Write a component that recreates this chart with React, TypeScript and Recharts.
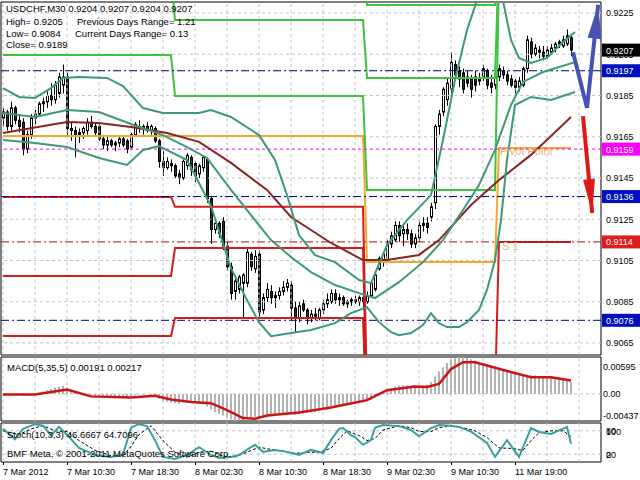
import React from 'react';
import { ComposedChart, Bar, Line, XAxis, YAxis, ReferenceLine, ReferenceArea, ReferenceDot } from 'recharts';

const FONT = '"Liberation Sans", Arial, sans-serif';

// USDCHF M30 bars, first bar 7 Mar 2012 02:30
const opens = [
  0.9174, 0.9177, 0.9170, 0.9179, 0.9173, 0.9172, 0.9159, 0.9166, 0.9174, 0.9176,
  0.9181, 0.9182, 0.9185, 0.9183, 0.9186, 0.9190, 0.9194, 0.9169, 0.9168, 0.9166,
  0.9167, 0.9168, 0.9172, 0.9170, 0.9170, 0.9164, 0.9161, 0.9163, 0.9161, 0.9162,
  0.9164, 0.9163, 0.9160, 0.9166, 0.9170, 0.9169, 0.9170, 0.9168, 0.9169, 0.9163,
  0.9153, 0.9150, 0.9152, 0.9151, 0.9147, 0.9145, 0.9151, 0.9155, 0.9152, 0.9147,
  0.9150, 0.9154, 0.9135, 0.9120, 0.9123, 0.9124, 0.9112, 0.9102, 0.9090, 0.9091,
  0.9094, 0.9094, 0.9108, 0.9101, 0.9108, 0.9081, 0.9087, 0.9090, 0.9087, 0.9088,
  0.9090, 0.9092, 0.9093, 0.9082, 0.9077, 0.9084, 0.9081, 0.9077, 0.9079, 0.9077,
  0.9081, 0.9084, 0.9085, 0.9089, 0.9086, 0.9087, 0.9084, 0.9085, 0.9086, 0.9085,
  0.9087, 0.9085, 0.9088, 0.9091, 0.9101, 0.9105, 0.9105, 0.9113, 0.9115, 0.9122,
  0.9118, 0.9120, 0.9118, 0.9113, 0.9116, 0.9122, 0.9123, 0.9126, 0.9133, 0.9170,
  0.9177, 0.9183, 0.9188, 0.9200, 0.9197, 0.9196, 0.9194, 0.9193, 0.9194, 0.9193,
  0.9194, 0.9197, 0.9191, 0.9190, 0.9194, 0.9197, 0.9195, 0.9193, 0.9192, 0.9189,
  0.9190, 0.9198, 0.9211, 0.9205, 0.9207, 0.9206, 0.9204, 0.9206, 0.9208, 0.9210,
  0.9209, 0.9210, 0.9213,
];
const highs = [
  0.9179, 0.9178, 0.9182, 0.9180, 0.9176, 0.9174, 0.9168, 0.9176, 0.9178, 0.9182,
  0.9184, 0.9187, 0.9191, 0.9192, 0.9196, 0.9200, 0.9196, 0.9172, 0.9170, 0.9169,
  0.9170, 0.9174, 0.9175, 0.9172, 0.9172, 0.9165, 0.9165, 0.9164, 0.9163, 0.9165,
  0.9165, 0.9164, 0.9167, 0.9172, 0.9173, 0.9171, 0.9172, 0.9171, 0.9170, 0.9164,
  0.9158, 0.9155, 0.9154, 0.9152, 0.9149, 0.9154, 0.9157, 0.9156, 0.9153, 0.9152,
  0.9156, 0.9155, 0.9136, 0.9125, 0.9124, 0.9126, 0.9114, 0.9104, 0.9097, 0.9098,
  0.9099, 0.9111, 0.9109, 0.9110, 0.9110, 0.9089, 0.9094, 0.9093, 0.9090, 0.9092,
  0.9095, 0.9096, 0.9095, 0.9085, 0.9085, 0.9086, 0.9082, 0.9081, 0.9082, 0.9082,
  0.9086, 0.9089, 0.9091, 0.9091, 0.9089, 0.9088, 0.9086, 0.9087, 0.9088, 0.9088,
  0.9089, 0.9090, 0.9095, 0.9100, 0.9107, 0.9109, 0.9115, 0.9119, 0.9124, 0.9124,
  0.9122, 0.9123, 0.9120, 0.9118, 0.9124, 0.9126, 0.9126, 0.9133, 0.9171, 0.9178,
  0.9189, 0.9193, 0.9206, 0.9202, 0.9199, 0.9198, 0.9197, 0.9195, 0.9197, 0.9196,
  0.9200, 0.9198, 0.9195, 0.9196, 0.9200, 0.9199, 0.9197, 0.9195, 0.9193, 0.9194,
  0.9199, 0.9214, 0.9213, 0.9210, 0.9209, 0.9209, 0.9209, 0.9210, 0.9211, 0.9212,
  0.9214, 0.9217, 0.9214,
];
const lows = [
  0.9170, 0.9168, 0.9168, 0.9171, 0.9167, 0.9156, 0.9157, 0.9164, 0.9171, 0.9175,
  0.9177, 0.9179, 0.9180, 0.9181, 0.9184, 0.9186, 0.9166, 0.9163, 0.9155, 0.9162,
  0.9164, 0.9166, 0.9169, 0.9165, 0.9163, 0.9159, 0.9158, 0.9160, 0.9158, 0.9160,
  0.9160, 0.9157, 0.9159, 0.9165, 0.9167, 0.9166, 0.9167, 0.9166, 0.9162, 0.9150,
  0.9146, 0.9149, 0.9148, 0.9145, 0.9142, 0.9144, 0.9149, 0.9146, 0.9143, 0.9145,
  0.9148, 0.9133, 0.9113, 0.9118, 0.9116, 0.9110, 0.9100, 0.9086, 0.9086, 0.9089,
  0.9077, 0.9092, 0.9100, 0.9099, 0.9077, 0.9079, 0.9085, 0.9084, 0.9082, 0.9086,
  0.9088, 0.9090, 0.9076, 0.9070, 0.9075, 0.9080, 0.9074, 0.9075, 0.9076, 0.9076,
  0.9079, 0.9082, 0.9084, 0.9084, 0.9083, 0.9083, 0.9082, 0.9083, 0.9084, 0.9083,
  0.9081, 0.9084, 0.9087, 0.9090, 0.9100, 0.9102, 0.9104, 0.9111, 0.9114, 0.9114,
  0.9112, 0.9115, 0.9111, 0.9111, 0.9114, 0.9119, 0.9118, 0.9124, 0.9130, 0.9166,
  0.9175, 0.9180, 0.9186, 0.9192, 0.9189, 0.9186, 0.9189, 0.9184, 0.9187, 0.9190,
  0.9192, 0.9188, 0.9186, 0.9188, 0.9192, 0.9193, 0.9190, 0.9189, 0.9186, 0.9187,
  0.9189, 0.9196, 0.9203, 0.9204, 0.9203, 0.9202, 0.9203, 0.9205, 0.9206, 0.9208,
  0.9208, 0.9209, 0.9204,
];
const closes = [
  0.9177, 0.9170, 0.9179, 0.9173, 0.9170, 0.9159, 0.9166, 0.9174, 0.9176, 0.9181,
  0.9182, 0.9185, 0.9183, 0.9190, 0.9194, 0.9194, 0.9169, 0.9168, 0.9166, 0.9167,
  0.9169, 0.9172, 0.9170, 0.9167, 0.9164, 0.9161, 0.9163, 0.9161, 0.9162, 0.9164,
  0.9161, 0.9159, 0.9166, 0.9171, 0.9169, 0.9170, 0.9168, 0.9170, 0.9163, 0.9153,
  0.9150, 0.9153, 0.9151, 0.9146, 0.9145, 0.9153, 0.9156, 0.9149, 0.9146, 0.9151,
  0.9155, 0.9135, 0.9120, 0.9123, 0.9118, 0.9112, 0.9102, 0.9089, 0.9095, 0.9097,
  0.9098, 0.9109, 0.9102, 0.9107, 0.9080, 0.9087, 0.9091, 0.9087, 0.9088, 0.9090,
  0.9092, 0.9094, 0.9082, 0.9077, 0.9083, 0.9081, 0.9077, 0.9079, 0.9078, 0.9081,
  0.9084, 0.9086, 0.9089, 0.9086, 0.9087, 0.9084, 0.9085, 0.9086, 0.9085, 0.9087,
  0.9085, 0.9088, 0.9094, 0.9098, 0.9106, 0.9108, 0.9113, 0.9117, 0.9122, 0.9117,
  0.9120, 0.9118, 0.9113, 0.9116, 0.9122, 0.9123, 0.9121, 0.9131, 0.9170, 0.9176,
  0.9188, 0.9191, 0.9201, 0.9195, 0.9193, 0.9188, 0.9191, 0.9188, 0.9190, 0.9192,
  0.9198, 0.9190, 0.9189, 0.9194, 0.9198, 0.9195, 0.9192, 0.9190, 0.9189, 0.9192,
  0.9198, 0.9212, 0.9205, 0.9208, 0.9206, 0.9204, 0.9207, 0.9208, 0.9210, 0.9211,
  0.9212, 0.9214, 0.9207,
];

// MACD main (histogram), in thousandths
const macdHist = [
  0.0, -0.1, -0.1, 0.0, -0.1, -0.3, -0.3, -0.2, 0.0, 0.2,
  0.4, 0.6, 0.8, 1.0, 1.2, 1.3, 1.0, 0.7, 0.5, 0.3,
  0.1, 0.0, -0.2, -0.3, -0.4, -0.5, -0.6, -0.6, -0.7, -0.6,
  -0.6, -0.5, -0.4, -0.2, -0.1, -0.1, 0.0, -0.1, -0.4, -0.8,
  -1.1, -1.3, -1.4, -1.5, -1.6, -1.4, -1.2, -1.2, -1.4, -1.6,
  -1.7, -2.0, -2.5, -2.9, -3.2, -3.5, -3.8, -4.1, -4.37, -4.3,
  -4.2, -4.0, -3.9, -3.7, -3.9, -3.9, -3.8, -3.6, -3.5, -3.4,
  -3.3, -3.2, -3.3, -3.4, -3.3, -3.2, -3.1, -3.0, -2.9, -2.7,
  -2.5, -2.4, -2.2, -2.1, -2.0, -1.9, -1.8, -1.7, -1.6, -1.5,
  -1.4, -1.2, -1.0, -0.6, -0.2, 0.2, 0.6, 0.9, 1.2, 1.3,
  1.4, 1.4, 1.3, 1.3, 1.3, 1.4, 1.5, 1.9, 2.8, 3.6,
  4.3, 5.0, 5.5, 5.8, 5.95, 5.9, 5.8, 5.6, 5.4, 5.2,
  5.0, 4.8, 4.6, 4.4, 4.2, 4.0, 3.8, 3.6, 3.4, 3.2,
  3.1, 3.1, 3.0, 3.0, 2.9, 2.9, 2.8, 2.7, 2.6, 2.5,
  2.3, 2.1, 1.91,
];
// [bar, value] points
const macdSignal = [
  [0, -0.1], [8, -0.1], [16, 0.7], [22, -0.4], [32, -0.6], [38, -0.3], [42, -0.9], [47, -1.3],
  [52, -1.5], [56, -2.6], [60, -3.9], [63, -4.0], [66, -3.5], [74, -3.0], [82, -2.2], [91, -1.0],
  [96, 0.6], [103, 1.2], [106, 1.1], [109, 1.6], [112, 4.0], [115, 5.1], [118, 5.1], [126, 3.7],
  [132, 2.7], [137, 2.7], [142, 2.17],
];
const stochMain = [
  [0, 85], [3, 58], [5, 85], [8, 97], [10, 93], [12, 68], [14, 90], [16, 70], [19, 36], [23, 18],
  [27, 13], [30, 18], [32, 88], [34, 97], [36, 92], [38, 56], [40, 13], [43, 8], [46, 18], [49, 38],
  [52, 18], [54, 10], [57, 13], [59, 18], [62, 38], [63, 44], [65, 26], [68, 31], [71, 26], [74, 18],
  [77, 31], [80, 23], [82, 56], [84, 85], [85, 87], [87, 69], [88, 64], [90, 44], [92, 56], [93, 88],
  [95, 95], [99, 92], [102, 82], [104, 66], [107, 87], [109, 95], [112, 93], [114, 90], [117, 78],
  [121, 49], [123, 13], [126, 56], [129, 13], [132, 87], [134, 77], [137, 72], [141, 90], [142, 47],
];
const stochSignal = [
  [0, 80], [4, 70], [7, 85], [10, 93], [13, 80], [16, 78], [19, 55], [23, 30], [27, 16], [30, 15],
  [32, 40], [34, 70], [37, 93], [40, 55], [43, 25], [46, 12], [49, 25], [52, 28], [55, 15], [58, 13],
  [61, 25], [64, 38], [67, 32], [70, 28], [73, 22], [76, 25], [79, 25], [82, 35], [84, 60], [86, 80],
  [89, 68], [91, 55], [93, 60], [95, 82], [99, 93], [102, 88], [104, 78], [107, 78], [109, 88],
  [112, 93], [115, 88], [118, 80], [121, 63], [124, 36], [127, 35], [130, 30], [132, 55], [134, 75],
  [137, 80], [140, 80], [142, 65],
];

// Bollinger bands and slow MA
const bbUpper = [
  [0, 0.91886], [4, 0.91843], [8, 0.91838], [12, 0.91886], [15, 0.91935], [19, 0.9194], [26, 0.91935],
  [30, 0.91896], [35, 0.91789], [40, 0.91765], [49, 0.91765], [52, 0.9178], [57, 0.91746], [64, 0.91658],
  [68, 0.91537], [71, 0.91367], [74, 0.91173], [78, 0.91076], [83, 0.91042], [89, 0.90955], [92, 0.9094],
  [96, 0.91125], [101, 0.91246], [107, 0.91367], [110, 0.91634], [113, 0.91925], [116, 0.92168],
  [119, 0.9234], [122, 0.9241], [125, 0.9231], [127, 0.92119], [129, 0.92032], [132, 0.92008],
  [136, 0.92032], [140, 0.92109], [143, 0.92158],
];
const bbMiddle = [
  [0, 0.91765], [8, 0.91746], [16, 0.9178], [24, 0.9177], [32, 0.91712], [40, 0.91658], [46, 0.916],
  [51, 0.91547], [57, 0.91392], [62, 0.9127], [67, 0.91149], [72, 0.91067], [77, 0.90994], [83, 0.90931],
  [89, 0.90892], [93, 0.90868], [99, 0.90945], [105, 0.91042], [110, 0.91149], [115, 0.91295],
  [119, 0.91416], [123, 0.91586], [127, 0.91804], [130, 0.91916], [135, 0.91964], [143, 0.92012],
];
const bbLower = [
  [0, 0.91634], [8, 0.9162], [16, 0.916], [24, 0.91547], [31, 0.91513], [35, 0.91586], [39, 0.91605],
  [46, 0.91537], [52, 0.91314], [57, 0.91013], [61, 0.90858], [64, 0.90751], [67, 0.90683], [72, 0.90698],
  [77, 0.90713], [83, 0.90746], [87, 0.90795], [91, 0.90824], [94, 0.90751], [97, 0.90703], [99, 0.90688],
  [102, 0.90698], [105, 0.90737], [107, 0.90795], [109, 0.90746], [111, 0.90727], [114, 0.90727],
  [116, 0.90751], [119, 0.9081], [121, 0.90907], [123, 0.91052], [124.5, 0.91246], [126, 0.91537],
  [128, 0.91804], [132, 0.91843], [137, 0.91828], [143, 0.91867],
];
const maSlow = [
  [0, 0.91668], [16, 0.91721], [24, 0.91717], [32, 0.91697], [41, 0.91668], [49, 0.91625], [57, 0.91523],
  [66, 0.91392], [72, 0.91261], [82, 0.91135], [90, 0.91052], [96, 0.91052], [104, 0.91077],
  [109, 0.91149], [117, 0.91319], [124, 0.9144], [132, 0.91562], [142, 0.91746],
];

// daily levels (days start at bars 0, 43, 91, 124)
const dayFirst = [0, 43, 91, 124];
const dayLast = [42, 90, 123, 142];
const greenR1 = [0.92046, 0.91848, 0.91392, 0.9245];
const greenR2 = [0.9245, 0.92216, 0.91935, 0.9255];
const greenR3 = [0.9255, 0.925, 0.92289, 0.9265];
const orangePivot = [0.91654, 0.91654, 0.91043, 0.91595];
const redS1 = [0.91358, 0.9131, 0.904, 0.9114];
const redS2 = [0.90975, 0.91111, 0.903, 0.903];
const redS3 = [0.90684, 0.90771, 0.902, 0.902];

// hand drawn arrows
const blueArrow = [[142.5, 0.9206], [146, 0.9179], [148.8, 0.9229]];
const redArrow = [[145, 0.9175], [147.3, 0.9128]];

const priceTicks = [0.9225, 0.9205, 0.9185, 0.9165, 0.9145, 0.9125, 0.9105, 0.9085, 0.9065];
const hLines = [
  { v: 0.9197, color: '#000080', dash: '8 3 2 3' },
  { v: 0.9136, color: '#000080', dash: '8 3 2 3' },
  { v: 0.9076, color: '#000080', dash: '8 3 2 3' },
  { v: 0.9159, color: '#ff00ff', dash: '3 3' },
  { v: 0.9114, color: '#a01010', dash: '8 3 2 3' },
];
const priceTags = [
  { v: 0.9207, bg: '#000000' },
  { v: 0.9197, bg: '#0010c0' },
  { v: 0.9159, bg: '#ff00ff' },
  { v: 0.9136, bg: '#0010c0' },
  { v: 0.9114, bg: '#e01c1c' },
  { v: 0.9076, bg: '#0010c0' },
];
const gridBars = [0, 8, 16, 24, 32, 40, 48, 56, 64, 72, 80, 88, 96, 104, 112, 120, 128, 136, 144];
const xLabelBars = [0, 16, 32, 48, 64, 80, 96, 112, 128];
const xLabels = ['7 Mar 2012', '7 Mar 10:30', '7 Mar 18:30', '8 Mar 02:30', '8 Mar 10:30', '8 Mar 18:30', '9 Mar 02:30', '9 Mar 10:30', '11 Mar 19:00'];
const macdTicks = [5.95, 0, -4.37];
const macdTickText = ['0.00595', '0.00', '-0.00437'];
const stochTicks = [100, 80, 20, 0];

const X_DOMAIN = [-0.5, 149.5];
const PRICE_DOMAIN = [0.905918, 0.923033];

const candles = opens.map((o, i) => ({ i, o, h: highs[i], l: lows[i], c: closes[i], macd: macdHist[i] }));
const pts = (arr: number[][]) => arr.map(([i, v]) => ({ i, v }));
const steps = (levels: number[]) =>
  levels.flatMap((v, d) => [{ i: dayFirst[d], v }, { i: dayLast[d], v }]);

const Candle = (props: any) => {
  const { x, y, width, height, payload } = props;
  if (!payload || height == null) return <g />;
  const top = Math.min(y, y + height);
  const bot = Math.max(y, y + height);
  const k = (bot - top) / (payload.h - payload.l);
  const yo = top + (payload.h - payload.o) * k;
  const yc = top + (payload.h - payload.c) * k;
  const cx = Math.round(x + width / 2) + 0.5;
  const bull = payload.c >= payload.o;
  const bt = Math.min(yo, yc);
  const bh = Math.max(1, Math.abs(yo - yc));
  return (
    <g>
      <line x1={cx} x2={cx} y1={top} y2={bot} stroke="#000" strokeWidth={1} />
      <rect x={cx - 1} y={bt} width={2} height={bh} fill={bull ? '#fff' : '#1c361c'} stroke="#000" strokeWidth={1} />
    </g>
  );
};

const PriceTick = (props: any) => {
  const { x, y, payload } = props;
  const tag = priceTags.find((t) => Math.abs(t.v - payload.value) < 1e-7);
  const txt = Number(payload.value).toFixed(4);
  if (tag) {
    return (
      <g>
        <rect x={x + 1} y={y - 6.5} width={39} height={13} fill={tag.bg} />
        <text x={x + 5} y={y + 3.5} fill="#fff" fontSize={9} fontFamily={FONT}>{txt}</text>
      </g>
    );
  }
  return <text x={x + 5} y={y + 3.5} fill="#000" fontSize={9} fontFamily={FONT}>{txt}</text>;
};

const MacdTick = (props: any) => {
  const { x, y, index } = props;
  const dy = index === 0 ? 12.5 : index === 2 ? -2.5 : 3.5;
  return <text x={x + 2} y={y + dy} fill="#000" fontSize={9} fontFamily={FONT}>{macdTickText[index]}</text>;
};

const StochTick = (props: any) => {
  const { x, y, payload } = props;
  const v = payload.value;
  const dy = v === 100 ? 11.5 : v === 0 ? -4.5 : 3.5;
  return <text x={x + 5} y={y + dy} fill="#000" fontSize={9} fontFamily={FONT}>{v}</text>;
};

const DateTick = (props: any) => {
  const { x, y, payload } = props;
  const k = xLabelBars.indexOf(payload.value);
  return (
    <g>
      <line x1={x + 0.5} x2={x + 0.5} y1={y} y2={y + 3} stroke="#000" />
      <text x={x} y={y + 13} fill="#000" fontSize={9} fontFamily={FONT}>{xLabels[k]}</text>
    </g>
  );
};

const arrowDot = (color: string, len: number, half: number, fallback: number) => (p: any) => {
  const { cx, cy, index, points } = p;
  const n = points ? points.length : 0;
  if (n && index !== n - 1) return <g key={`ad-${index}`} />;
  if (!n && index === 0) return <g key={`ad-${index}`} />;
  let ang = fallback;
  if (n > 1) {
    const prev = points[index - 1];
    ang = Math.atan2(cy - prev.y, cx - prev.x);
  }
  const bx = cx - Math.cos(ang) * len;
  const by = cy - Math.sin(ang) * len;
  const nx = -Math.sin(ang) * half;
  const ny = Math.cos(ang) * half;
  return <polygon key={`ad-${index}`} points={`${cx},${cy} ${bx + nx},${by + ny} ${bx - nx},${by - ny}`} fill={color} />;
};

const DotText = (props: any) => {
  const { viewBox, text, color } = props;
  if (!viewBox) return null;
  return <text x={viewBox.x} y={viewBox.y} fill={color} fontSize={11} fontFamily={FONT}>{text}</text>;
};

const GRID = '#c4c4c4';
const GREEN = '#3fc23f';
const RED = '#d41c1c';
const ORANGE = '#f2aa2e';
const BAND = '#3c9a78';

const line = (data: any[], color: string, width: number, extra: any = {}) => (
  <Line data={data} dataKey="v" type="linear" stroke={color} strokeWidth={width} dot={false} isAnimationActive={false} {...extra} />
);

const grid = (yValues: number[]) => [
  ...gridBars.map((b) => <ReferenceLine key={`gx${b}`} x={b} stroke={GRID} strokeDasharray="3 3" />),
  ...yValues.map((v) => <ReferenceLine key={`gy${v}`} y={v} stroke={GRID} strokeDasharray="3 3" />),
];

const MainChart = () => (
  <ComposedChart width={640} height={356} data={candles} margin={{ top: 2, right: 0, bottom: 1, left: 1 }}>
    <XAxis dataKey="i" type="number" domain={X_DOMAIN} allowDataOverflow hide />
    <YAxis
      orientation="right"
      type="number"
      domain={PRICE_DOMAIN}
      allowDataOverflow
      width={39}
      ticks={[...priceTicks, ...priceTags.map((t) => t.v)]}
      interval={0}
      tick={<PriceTick />}
      tickSize={0}
      tickMargin={0}
      tickLine={false}
      axisLine={false}
    />
    {grid(priceTicks)}
    <Bar dataKey={(d: any) => [d.l, d.h]} shape={Candle} barSize={3} isAnimationActive={false} />
    {line(steps(orangePivot), ORANGE, 2)}
    {line(steps(greenR3), GREEN, 2)}
    {line(steps(greenR2), GREEN, 2)}
    {line(steps(greenR1), GREEN, 2)}
    {line(steps(redS3), RED, 2)}
    {line(steps(redS2), RED, 2)}
    {line(steps(redS1), RED, 2)}
    {hLines.map((h) => (
      <ReferenceLine key={`h${h.v}`} y={h.v} stroke={h.color} strokeDasharray={h.dash} />
    ))}
    {line(pts(maSlow), '#8a2424', 2)}
    {line(pts(bbUpper), BAND, 2)}
    {line(pts(bbMiddle), BAND, 2)}
    {line(pts(bbLower), BAND, 2)}
    <ReferenceDot x={124.5} y={0.91557} r={1} fill="none" stroke="none" label={<DotText text="Pivot Point" color="#eeb272" />} />
    <ReferenceDot x={125} y={0.91095} r={1} fill="none" stroke="none" label={<DotText text="S 1" color="#e6b890" />} />
    {line(pts(blueArrow), '#4653b4', 4, { dot: arrowDot('#4653b4', 34, 7, -1.47) })}
    {line(pts(redArrow), '#e01818', 4, { dot: arrowDot('#e01818', 34, 6, 1.48) })}
    <ReferenceArea x1={X_DOMAIN[0]} x2={X_DOMAIN[1]} y1={PRICE_DOMAIN[0]} y2={PRICE_DOMAIN[1]} fill="none" stroke="#000" strokeWidth={1} fillOpacity={0} />
  </ComposedChart>
);

const MacdChart = () => (
  <ComposedChart width={640} height={66} data={candles} margin={{ top: 1, right: 0, bottom: 1, left: 1 }}>
    <XAxis dataKey="i" type="number" domain={X_DOMAIN} allowDataOverflow hide />
    <YAxis
      orientation="right"
      type="number"
      domain={[-4.37, 5.95]}
      allowDataOverflow
      width={39}
      ticks={macdTicks}
      interval={0}
      tick={<MacdTick />}
      tickSize={0}
      tickMargin={0}
      tickLine={false}
      axisLine={false}
    />
    {grid([0])}
    <Bar dataKey="macd" fill="#b2b2b2" barSize={2} isAnimationActive={false} />
    {line(pts(macdSignal), '#cc1414', 2.5)}
    <ReferenceArea x1={X_DOMAIN[0]} x2={X_DOMAIN[1]} y1={-4.37} y2={5.95} fill="none" stroke="#000" strokeWidth={1} fillOpacity={0} />
  </ComposedChart>
);

const StochChart = () => (
  <ComposedChart width={640} height={58} data={candles} margin={{ top: 1, right: 0, bottom: 0, left: 1 }}>
    <XAxis
      dataKey="i"
      type="number"
      domain={X_DOMAIN}
      allowDataOverflow
      ticks={xLabelBars}
      interval={0}
      tick={<DateTick />}
      tickSize={0}
      tickMargin={0}
      tickLine={false}
      axisLine={false}
      height={18}
    />
    <YAxis
      orientation="right"
      type="number"
      domain={[0, 100]}
      allowDataOverflow
      width={39}
      ticks={stochTicks}
      interval={0}
      tick={<StochTick />}
      tickSize={0}
      tickMargin={0}
      tickLine={false}
      axisLine={false}
    />
    {grid([80, 20])}
    {line(pts(stochSignal), '#000', 1, { strokeDasharray: '3 2' })}
    {line(pts(stochMain), '#3aa0a0', 2)}
    <ReferenceArea x1={X_DOMAIN[0]} x2={X_DOMAIN[1]} y1={0} y2={100} fill="none" stroke="#000" strokeWidth={1} fillOpacity={0} />
  </ComposedChart>
);

const T = (p: { x: number; y: number; children: React.ReactNode }) => (
  <text x={p.x} y={p.y} fontSize={9.5} fontFamily={FONT} fill="#000">{p.children}</text>
);

export default function App() {
  return (
    <div style={{ position: 'absolute', left: 0, top: 0, width: 640, height: 480, background: '#fff', overflow: 'hidden' }}>
      <div style={{ position: 'absolute', left: 0, top: 0 }}><MainChart /></div>
      <div style={{ position: 'absolute', left: 0, top: 356 }}><MacdChart /></div>
      <div style={{ position: 'absolute', left: 0, top: 422 }}><StochChart /></div>
      <svg width={640} height={480} style={{ position: 'absolute', left: 0, top: 0, pointerEvents: 'none' }}>
        <T x={6} y={12}>USDCHF,M30  0.9204 0.9207 0.9204 0.9207</T>
        <T x={6} y={25}>High= 0.9205</T>
        <T x={77} y={25}>Previous Days Range= 1.21</T>
        <T x={6} y={37}>Low= 0.9084</T>
        <T x={75} y={37}>Current Days Range= 0.13</T>
        <T x={6} y={48}>Close= 0.9189</T>
        <T x={7} y={371}>MACD(5,35,5) 0.00191 0.00217</T>
        <T x={7} y={438}>Stoch(10,3,3) 46.6667 64.7096</T>
        <T x={7} y={457}>BMF Meta, © 2001-2011 MetaQuotes Software Corp.</T>
      </svg>
    </div>
  );
}
